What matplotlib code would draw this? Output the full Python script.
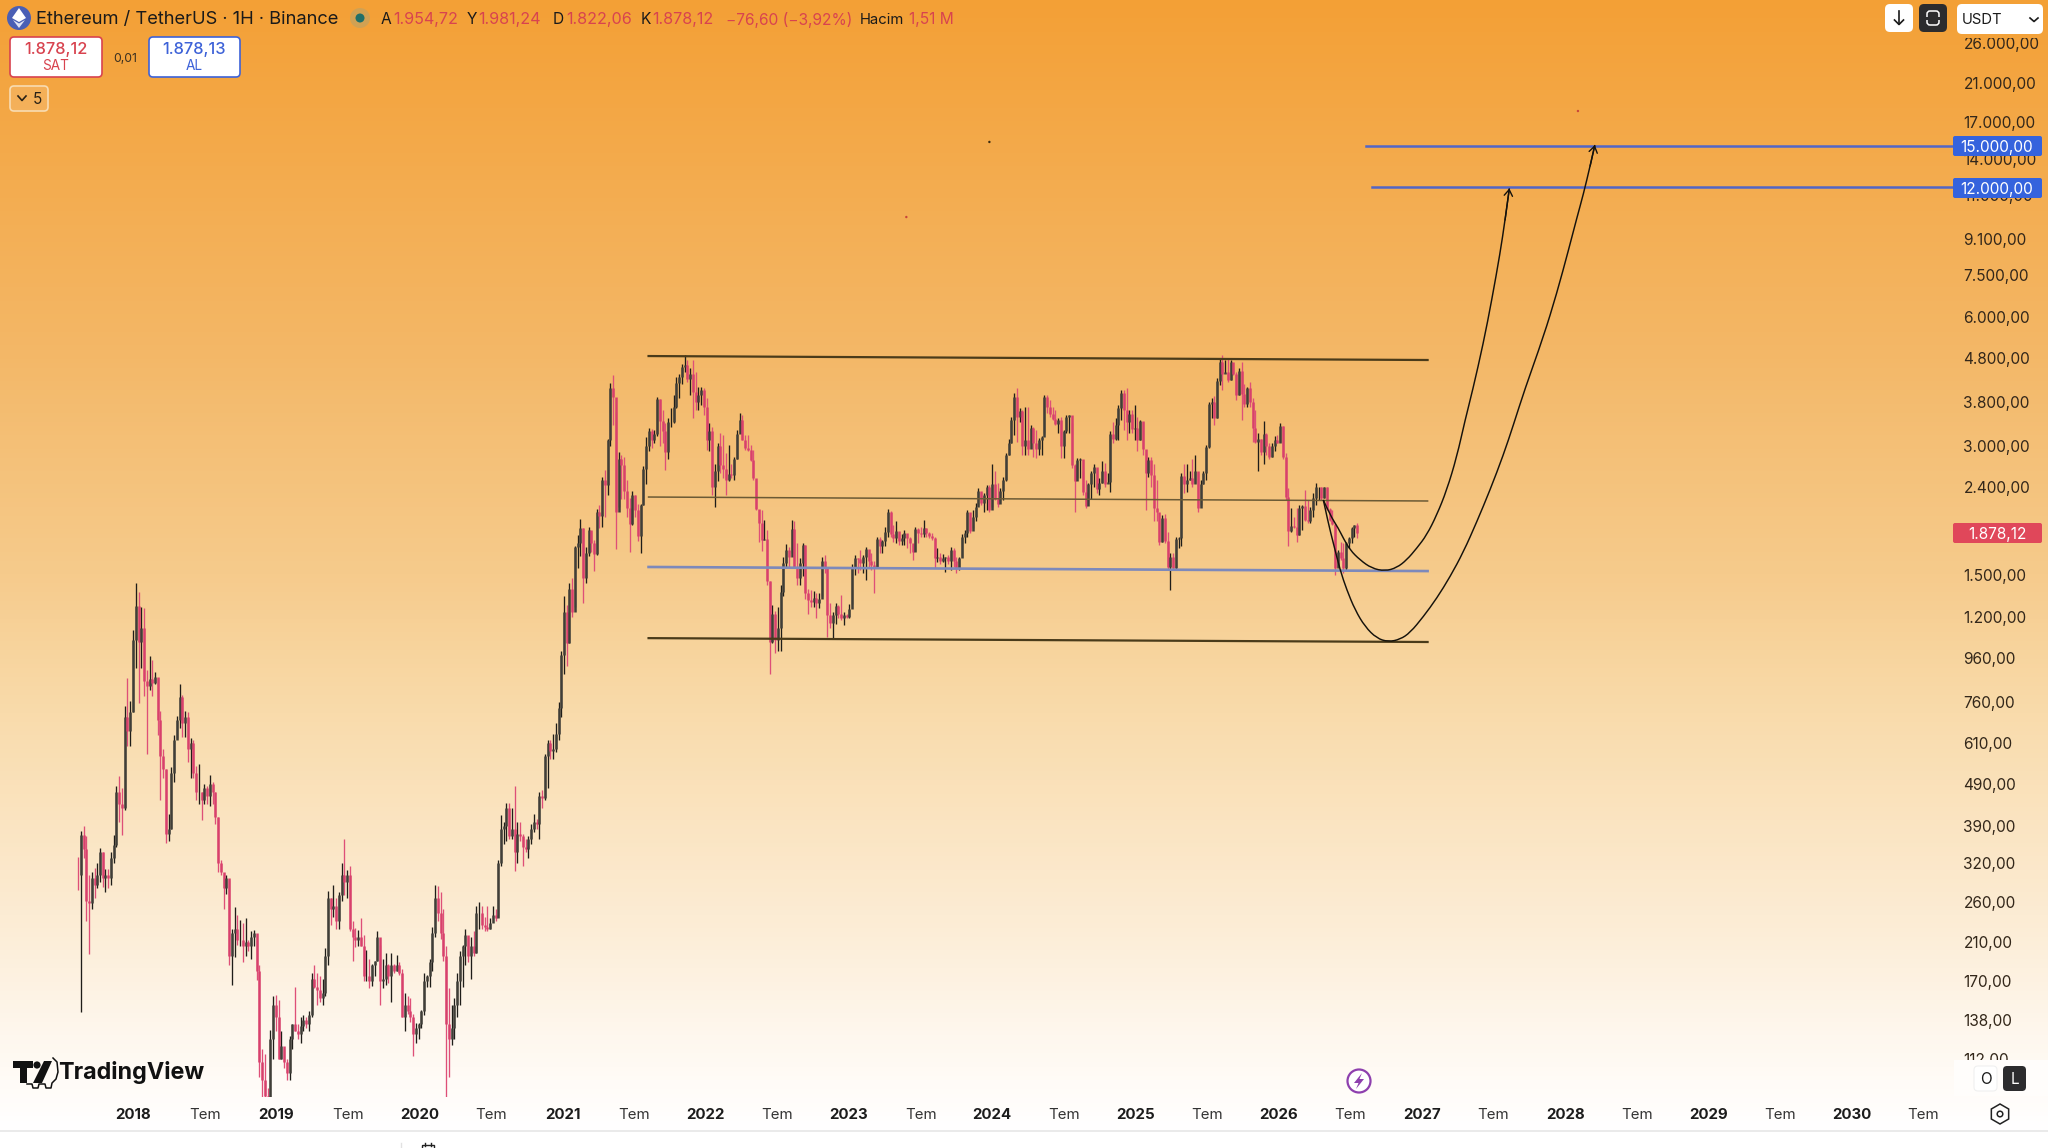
import numpy as np
import pandas as pd
import matplotlib
matplotlib.use('Agg')
import matplotlib.pyplot as plt
from matplotlib.colors import LinearSegmentedColormap
from matplotlib.patches import FancyBboxPatch, Circle, Polygon, Rectangle, PathPatch, RegularPolygon
from matplotlib.path import Path
from matplotlib.ticker import FixedLocator, NullLocator

plt.rcParams['font.family'] = ['Inter', 'DejaVu Sans']

# weekly candles
first_week = '2017-08-14'
first_open = 301
close = [
    300, 372, 345, 262, 258, 295, 285, 300, 340, 295,
    300, 295, 330, 352, 470, 440, 430, 700, 650, 720,
    1060, 1270, 1050, 1130, 850, 830, 860, 840, 870, 690,
    570, 530, 375, 385, 520, 620, 690, 780, 680, 700,
    590, 610, 520, 470, 470, 450, 480, 460, 490, 470,
    410, 320, 305, 280, 295, 195, 220, 225, 212, 212,
    205, 210, 205, 215, 220, 180, 110, 100, 92, 88,
    125, 150, 140, 112, 120, 110, 104, 125, 135, 130,
    128, 134, 138, 135, 142, 172, 165, 162, 155, 160,
    195, 265, 250, 255, 235, 270, 300, 290, 300, 225,
    215, 212, 215, 205, 175, 175, 170, 185, 190, 215,
    170, 172, 185, 175, 185, 180, 185, 178, 140, 150,
    145, 140, 128, 132, 135, 145, 170, 175, 188, 220,
    265, 245, 220, 195, 135, 125, 132, 150, 170, 195,
    205, 218, 195, 205, 198, 245, 245, 230, 228, 225,
    232, 243, 238, 320, 385, 390, 430, 370, 385, 340,
    375, 370, 350, 345, 365, 385, 400, 395, 460, 455,
    570, 610, 585, 590, 640, 735, 975, 1230, 1040, 1390,
    1230, 1740, 1780, 1930, 1480, 1690, 1910, 1780, 1680, 2100,
    2060, 2500, 2430, 3100, 4100, 3900, 2100, 2790, 2700, 2350,
    2150, 1970, 2300, 2130, 1850, 2190, 2650, 3000, 3250, 3100,
    3200, 3850, 3430, 3250, 2900, 3400, 3400, 3700, 4200, 4330,
    4580, 4620, 4300, 4400, 4000, 3800, 3950, 4050, 3700, 3100,
    3250, 2400, 2620, 3000, 2700, 2650, 2500, 2580, 2570, 2800,
    3200, 3450, 3100, 2960, 2930, 2780, 2520, 2140, 1980, 1810,
    1820, 1450, 1050, 1215, 1060, 1130, 1370, 1600, 1720, 1650,
    1920, 1570, 1480, 1600, 1760, 1360, 1310, 1300, 1330, 1290,
    1320, 1620, 1570, 1210, 1160, 1210, 1270, 1220, 1190, 1210,
    1200, 1250, 1570, 1640, 1635, 1600, 1650, 1730, 1620, 1580,
    1560, 1820, 1750, 1800, 1890, 2100, 1870, 1830, 1900, 1800,
    1830, 1880, 1830, 1780, 1700, 1920, 1880, 1870, 1930, 1880,
    1850, 1830, 1640, 1650, 1620, 1640, 1650, 1620, 1720, 1620,
    1560, 1640, 1840, 1880, 2100, 1900, 2050, 2160, 2350, 2210,
    2300, 2400, 2130, 2450, 2260, 2200, 2350, 2500, 2850, 3050,
    3450, 3900, 3500, 3620, 3000, 3100, 2950, 3300, 3050, 2950,
    3100, 3140, 3900, 3700, 3560, 3470, 3370, 3450, 3000, 3250,
    3510, 3530, 2700, 2480, 2780, 2790, 2340, 2170, 2440, 2590,
    2680, 2380, 2460, 2620, 2440, 2470, 3200, 3110, 3350, 3680,
    3980, 3640, 3400, 3560, 3280, 3300, 3100, 3420, 2950, 2600,
    2780, 2560, 2150, 2100, 1790, 2040, 1800, 1570, 1650, 1560,
    1820, 1830, 2550, 2450, 2500, 2530, 2450, 2620, 2150, 2450,
    2600, 2980, 3750, 3800, 3480, 4250, 4700, 4400, 4450, 4260,
    4700, 4420, 3950, 4480, 3960, 3750, 4080, 3800, 3300, 3060,
    3120, 2900, 3200, 3000, 2820, 3000, 3100, 3050, 3330, 2830,
    2280, 1900, 1950, 1940, 1860, 2150, 2170, 2020, 2000, 2130,
    2270, 2400, 2405, 2270, 2400, 2140, 2020, 1970, 1560, 1700,
    1640, 1560, 1780, 1830, 1930, 1960, 1878.12,
]
high = [
    331, 380, 391, 370, 300, 305, 312, 320, 348, 340,
    310, 310, 340, 372, 484, 510, 480, 745, 862, 765,
    1117, 1437, 1370, 1266, 1260, 900, 970, 950, 890, 862,
    725, 590, 530, 417, 535, 635, 705, 837, 790, 725,
    720, 625, 620, 540, 545, 470, 490, 485, 513, 495,
    470, 410, 325, 300, 300, 293, 225, 253, 243, 236,
    232, 238, 212, 222, 224, 212, 185, 118, 115, 96,
    131, 157, 158, 154, 130, 118, 112, 127, 135, 165,
    135, 140, 142, 140, 145, 178, 185, 178, 175, 172,
    203, 276, 265, 285, 265, 275, 320, 365, 308, 315,
    235, 226, 224, 238, 218, 201, 192, 186, 190, 222,
    206, 192, 198, 186, 198, 186, 196, 188, 182, 160,
    157, 155, 143, 136, 136, 146, 178, 176, 192, 227,
    285, 283, 275, 250, 205, 164, 150, 155, 178, 200,
    207, 225, 215, 215, 222, 255, 260, 255, 240, 255,
    238, 255, 250, 325, 414, 400, 442, 442, 430, 485,
    400, 400, 375, 365, 370, 395, 416, 405, 470, 475,
    576, 620, 620, 640, 680, 760, 1000, 1340, 1280, 1440,
    1480, 1750, 1860, 2030, 1930, 1740, 1940, 1890, 1810, 2140,
    2190, 2540, 2640, 3110, 4200, 4380, 3600, 2900, 2860, 2830,
    2500, 2265, 2360, 2300, 2200, 2200, 2690, 3150, 3300, 3280,
    3265, 3900, 3850, 3635, 3385, 3480, 3670, 3940, 4330, 4420,
    4650, 4870, 4750, 4550, 4750, 4460, 4120, 4120, 4085, 3870,
    3385, 3325, 2715, 3040, 3210, 3185, 2885, 3020, 2715, 2830,
    3265, 3570, 3540, 3185, 3185, 3020, 2940, 2500, 2125, 2125,
    2015, 1915, 1450, 1275, 1240, 1266, 1425, 1656, 1775, 1740,
    2015, 2000, 1780, 1640, 1780, 1765, 1395, 1385, 1375, 1360,
    1360, 1656, 1670, 1565, 1290, 1230, 1295, 1275, 1350, 1230,
    1220, 1285, 1590, 1670, 1640, 1715, 1670, 1740, 1690, 1690,
    1620, 1840, 1845, 1810, 1945, 2135, 2120, 1965, 2010, 1895,
    1865, 1915, 1845, 1845, 1765, 1945, 1930, 1945, 2020, 1930,
    1895, 1880, 1845, 1735, 1690, 1680, 1656, 1670, 1740, 1735,
    1656, 1656, 1865, 1915, 2125, 2030, 2125, 2205, 2390, 2345,
    2325, 2435, 2435, 2715, 2615, 2455, 2390, 2545, 2885, 3105,
    3510, 3980, 4085, 3670, 3635, 3700, 3700, 3355, 3325, 3265,
    3125, 3160, 3940, 3940, 3835, 3700, 3635, 3480, 3510, 3265,
    3540, 3540, 3385, 2715, 2810, 2810, 2615, 2500, 2455, 2615,
    2715, 2670, 2525, 2765, 2740, 2590, 3240, 3415, 3480, 3730,
    4050, 4050, 4085, 3635, 3635, 3730, 3510, 3450, 3415, 2885,
    2830, 2830, 2715, 2500, 2000, 2065, 2085, 1895, 1690, 1690,
    1845, 1845, 2590, 2715, 2715, 2615, 2790, 2860, 2590, 2500,
    2615, 3020, 3800, 3870, 3910, 4310, 4780, 4870, 4750, 4780,
    4750, 4550, 4460, 4550, 4710, 4190, 4120, 4230, 3870, 3635,
    3210, 3120, 3430, 3210, 3045, 3045, 3160, 3185, 3385, 3340,
    2885, 2390, 2145, 2050, 2145, 2185, 2185, 2365, 2245, 2165,
    2325, 2455, 2410, 2410, 2410, 2400, 2145, 2125, 1965, 1720,
    1795, 1780, 1795, 1845, 1945, 1965, 1980,
]
low = [
    278, 144, 330, 235, 197, 250, 265, 280, 290, 282,
    275, 280, 285, 320, 350, 400, 372, 426, 600, 600,
    720, 910, 757, 910, 785, 575, 810, 785, 835, 636,
    450, 505, 357, 360, 385, 495, 625, 660, 630, 630,
    550, 505, 505, 450, 440, 404, 440, 440, 435, 440,
    395, 305, 300, 251, 272, 185, 167, 194, 207, 205,
    188, 195, 200, 192, 205, 171, 102, 87, 84, 84,
    84, 112, 130, 112, 112, 107, 100, 100, 118, 130,
    125, 122, 130, 132, 130, 140, 164, 150, 152, 150,
    157, 185, 230, 240, 225, 225, 261, 270, 265, 223,
    190, 204, 205, 205, 170, 170, 164, 166, 175, 190,
    150, 164, 167, 168, 152, 178, 180, 176, 140, 130,
    143, 137, 114, 122, 125, 132, 142, 165, 165, 180,
    215, 235, 213, 190, 91, 102, 121, 125, 140, 150,
    165, 185, 188, 172, 195, 198, 225, 225, 222, 222,
    225, 238, 235, 240, 315, 355, 360, 365, 365, 307,
    320, 360, 315, 340, 330, 355, 378, 385, 365, 430,
    450, 480, 560, 560, 580, 620, 700, 885, 920, 1040,
    1200, 1266, 1560, 1660, 1290, 1440, 1660, 1700, 1530, 1670,
    1930, 1940, 2050, 2310, 3000, 3350, 1730, 2165, 2250, 2250,
    2050, 1700, 1960, 2050, 1800, 1690, 2190, 2450, 2915, 2965,
    3040, 3160, 2990, 3040, 2640, 2790, 3325, 3385, 3670, 3870,
    4190, 4460, 4230, 3940, 3480, 3635, 3635, 3730, 3540, 2940,
    2915, 2305, 2165, 2480, 2590, 2525, 2305, 2480, 2525, 2500,
    2800, 3210, 3095, 2940, 2915, 2765, 2500, 2125, 1795, 1705,
    1810, 1425, 883, 1040, 990, 1000, 1000, 1340, 1555, 1565,
    1690, 1565, 1425, 1425, 1490, 1320, 1215, 1266, 1266, 1190,
    1255, 1340, 1514, 1075, 1130, 1070, 1155, 1195, 1180, 1145,
    1190, 1190, 1285, 1500, 1514, 1540, 1514, 1460, 1565, 1540,
    1360, 1565, 1690, 1690, 1750, 1845, 1845, 1795, 1780, 1765,
    1765, 1765, 1735, 1690, 1625, 1705, 1780, 1845, 1845, 1845,
    1830, 1810, 1555, 1610, 1595, 1610, 1525, 1590, 1540, 1565,
    1514, 1540, 1656, 1780, 1845, 1880, 1930, 2000, 2185, 2185,
    2105, 2125, 2105, 2165, 2245, 2165, 2245, 2245, 2480, 2860,
    3045, 3185, 3070, 3415, 2860, 2860, 2860, 3045, 2830, 2810,
    2860, 2860, 3210, 3570, 3510, 3450, 3355, 3210, 2810, 2810,
    3210, 3210, 2670, 2105, 2525, 2525, 2305, 2145, 2265, 2255,
    2410, 2325, 2305, 2455, 2410, 2455, 2345, 3045, 3100, 3095,
    3450, 3265, 3095, 3210, 3210, 3095, 2915, 3100, 2860, 2125,
    2545, 2410, 2000, 2000, 1765, 1790, 1780, 1540, 1385, 1540,
    1540, 1735, 1750, 2325, 2345, 2500, 2410, 2455, 2105, 2185,
    2450, 2500, 2965, 3480, 3355, 3480, 4160, 4050, 4425, 4230,
    4270, 4390, 3835, 3950, 3450, 3700, 3700, 3700, 3070, 3045,
    2615, 2860, 2715, 2860, 2790, 2820, 2915, 3045, 3070, 2790,
    2245, 1750, 1895, 1930, 1795, 1860, 1915, 2000, 1980, 1980,
    2050, 2185, 2245, 2245, 2265, 2125, 2000, 1965, 1500, 1565,
    1625, 1514, 1540, 1735, 1780, 1845, 1830,
]

# drawn levels: [start year, end year], [start price, end price]
level_top = ([2021.60, 2027.04], [4855, 4753])
level_mid = ([2021.60, 2027.04], [2280, 2232])
level_blue = ([2021.60, 2027.04], [1567, 1533])
level_bottom = ([2021.60, 2027.04], [1070, 1048])
target_high = ([2026.61, 2030.71], [15000, 15000])
target_low = ([2026.65, 2030.71], [12000, 12000])

# hand drawn recovery curves
deep_years = [2026.312, 2026.347, 2026.382, 2026.429, 2026.476, 2026.534, 2026.603, 2026.685, 2026.766,
              2026.848, 2026.918, 2027.010, 2027.104, 2027.197, 2027.290, 2027.383, 2027.476, 2027.569,
              2027.639, 2027.717, 2027.849, 2027.942, 2028.024, 2028.082, 2028.128, 2028.175, 2028.208]
deep_prices = [2244, 1980, 1779, 1542, 1385, 1244, 1138, 1069, 1049,
               1063, 1102, 1200, 1325, 1487, 1698, 1994, 2367, 2856,
               3354, 4047, 5385, 6795, 8570, 10172, 11570, 13450, 15050]
shallow_years = [2026.312, 2026.359, 2026.417, 2026.452, 2026.499, 2026.568, 2026.650, 2026.743, 2026.825, 2026.894, 2026.964,
                 2027.034, 2027.104, 2027.174, 2027.244, 2027.302, 2027.355, 2027.429, 2027.488, 2027.546, 2027.581, 2027.611]
shallow_prices = [2244, 2070, 1928, 1827, 1716, 1627, 1556, 1533, 1561, 1627, 1732,
                  1860, 2070, 2367, 2830, 3445, 4047, 5197, 6554, 8420, 10066, 11930]

speck_years = [2023.98, 2023.40, 2028.09]
speck_prices = [15300, 10230, 18060]
speck_colors = ['#3a2a10', '#c8453a', '#c8453a']

# the 11.000 row sits a little above its nominal place on the reference scale
price_ticks = [26000, 21000, 17000, 14000, 11500, 9100, 7500, 6000, 4800, 3800, 3000, 2400,
               1500, 1200, 960, 760, 610, 490, 390, 320, 260, 210, 170, 138, 112]
price_labels = ['26.000,00', '21.000,00', '17.000,00', '14.000,00', '11.000,00', '9.100,00', '7.500,00', '6.000,00',
                '4.800,00', '3.800,00', '3.000,00', '2.400,00', '1.500,00', '1.200,00', '960,00', '760,00', '610,00',
                '490,00', '390,00', '320,00', '260,00', '210,00', '170,00', '138,00', '112,00']
year_ticks = [2018, 2019, 2020, 2021, 2022, 2023, 2024, 2025, 2026, 2027, 2028, 2029, 2030]

last_price = '1.878,12'
ohlc_text = [('A', 381, '1.954,72', 393), ('Y', 467, '1.981,24', 478), ('D', 553, '1.822,06', 566), ('K', 641, '1.878,12', 652)]


def smooth_path(xs, ys):
    # quadratic spline through the midpoints, midpoints taken on the log scale
    xs = np.array(xs)
    ys = np.log10(ys)
    verts = [(xs[0], 10 ** ys[0])]
    codes = [Path.MOVETO]
    for i in range(1, len(xs) - 1):
        end_x = xs[i + 1] if i == len(xs) - 2 else (xs[i] + xs[i + 1]) / 2
        end_y = ys[i + 1] if i == len(xs) - 2 else (ys[i] + ys[i + 1]) / 2
        verts += [(xs[i], 10 ** ys[i]), (end_x, 10 ** end_y)]
        codes += [Path.CURVE3, Path.CURVE3]
    return Path(verts, codes)


fig = plt.figure(figsize=(20.48, 11.48), dpi=100)

# background gradient
bg = fig.add_axes([0, 0, 1, 1], zorder=0)
stops = [(0, '#f3a036'), (0.3, '#f3b766'), (0.5, '#f6cb8c'), (0.62, '#f9dbab'), (0.8, '#fcecd4'), (0.93, '#fffaf4'), (0.985, '#ffffff'), (1, '#ffffff')]
cmap = LinearSegmentedColormap.from_list('tv_bg', stops)
bg.imshow(np.linspace(0, 1, 1148).reshape(-1, 1), cmap=cmap, aspect='auto', extent=[0, 2048, 1148, 0])
bg.axis('off')

# price chart, the axes stops where the price scale begins
ax = fig.add_axes([0, 51 / 1148, 1953 / 2048, 1097 / 1148], zorder=2)
ax.patch.set_alpha(0)
ax.set_yscale('log')
ax.set_xlim(2017.071, 2030.709)
ax.set_ylim(91.4, 32750)
for s in ax.spines.values():
    s.set_visible(False)

weeks = pd.date_range(first_week, periods=len(close), freq='7D')
t = weeks.year + (weeks.dayofyear - 1) / 365.25
close = np.array(close)
high = np.array(high)
low = np.array(low)
opens = np.r_[first_open, close[:-1]]
up = close >= opens
wick_col = np.where(up, '#1f1d19', '#de4f78')
body_col = np.where(up, '#403e38', '#d8406c')
ax.vlines(t, low, high, colors=wick_col, lw=0.95, zorder=3)
ax.vlines(t, np.minimum(opens, close), np.maximum(opens, close), colors=body_col, lw=1.8, zorder=3)

ax.plot(*level_top, color='#4a3b1a', lw=1.6, zorder=4)
ax.plot(*level_mid, color='#6b5a35', lw=1.1, zorder=4)
ax.plot(*level_blue, color='#7d89bb', lw=1.9, zorder=4)
ax.plot(*level_bottom, color='#4a3b1a', lw=1.6, zorder=4)
ax.plot(*target_high, color='#5266c6', lw=1.8, zorder=4)
ax.plot(*target_low, color='#5266c6', lw=1.8, zorder=4)

for xs, ys in [(deep_years, deep_prices), (shallow_years, shallow_prices)]:
    ax.add_patch(PathPatch(smooth_path(xs, ys), fill=False, ec='#15120c', lw=1.05, zorder=5))
    ax.annotate('', xy=(xs[-1], ys[-1]), xytext=(xs[-2], ys[-2]),
                arrowprops=dict(arrowstyle='->,head_length=0.45,head_width=0.3', color='#15120c', lw=1.0, shrinkA=0, shrinkB=0), zorder=5)
ax.scatter(speck_years, speck_prices, s=3, c=speck_colors, linewidths=0, zorder=3)

ax.yaxis.tick_right()
ax.yaxis.set_major_locator(FixedLocator(price_ticks))
ax.yaxis.set_minor_locator(NullLocator())
ax.set_yticklabels(price_labels, fontsize=11.1, color='#33271a')
ax.tick_params(axis='y', length=0, pad=7.5)
x_pos = []
x_lab = []
for y in year_ticks:
    x_pos += [y, y + 0.5]
    x_lab += [str(y), 'Tem']
ax.xaxis.set_major_locator(FixedLocator(x_pos))
ax.set_xticklabels(x_lab, fontsize=10.8)
ax.tick_params(axis='x', length=0, pad=8)
for lab in ax.get_xticklabels():
    if lab.get_text() == 'Tem':
        lab.set_color('#333333')
    else:
        lab.set_fontweight('bold')
        lab.set_color('#1c1c1c')

# interface on top, in pixels of the screenshot
ui = fig.add_axes([0, 0, 1, 1], zorder=5)
ui.set_xlim(0, 2048)
ui.set_ylim(1148, 0)
ui.axis('off')
ui.patch.set_alpha(0)


def box(x0, y0, x1, y1, fc, ec='none', lw=1.2, r=4, z=6):
    ui.add_patch(FancyBboxPatch((x0 + r, y0 + r), x1 - x0 - 2 * r, y1 - y0 - 2 * r,
                                boxstyle=f'round,pad={r},rounding_size={r}', fc=fc, ec=ec, lw=lw, zorder=z))


def label(x, y, s, color='#1a1a1a', size=10, ha='left', weight='normal', z=8):
    ui.text(x, y + 1.5, s, color=color, fontsize=size, ha=ha, va='center', fontweight=weight, zorder=z)


RED = '#d8434f'
# header
ui.add_patch(Circle((19, 18), 12, fc='#4a5fb5', ec='none', zorder=7))
ui.add_patch(Polygon([(19, 8), (26, 18), (19, 22), (12, 18)], fc='white', ec='none', zorder=8))
ui.add_patch(Polygon([(19, 23.5), (25, 20), (19, 28), (13, 20)], fc='#dfe3f5', ec='none', zorder=8))
label(36, 18, 'Ethereum / TetherUS · 1H · Binance', size=13.2)
ui.add_patch(Circle((360, 18), 10, fc='#c9a25a', ec='none', alpha=0.8, zorder=7))
ui.add_patch(Circle((360, 18), 4.5, fc='#1f6f68', ec='none', zorder=8))
for letter, lx, val, vx in ohlc_text:
    label(lx, 18, letter, size=11.2)
    label(vx, 18, val, color=RED, size=11.6)
label(726, 18, '−76,60 (−3,92%)', color=RED, size=11.2)
label(860, 18, 'Hacim', size=10.7)
label(909, 18, '1,51 M', color=RED, size=11.2)

box(10, 37, 102, 77, 'white', ec=RED)
box(149, 37, 240, 77, 'white', ec='#3d62d8')
label(56, 48, '1.878,12', color=RED, size=11.8, ha='center', weight='medium')
label(56, 65, 'SAT', color=RED, size=9.8, ha='center')
label(125, 57, '0,01', size=8.8, ha='center', color='#3a3020')
label(194, 48, '1.878,13', color='#3d62d8', size=11.8, ha='center', weight='medium')
label(194, 65, 'AL', color='#3d62d8', size=9.8, ha='center')
box(10, 86, 48, 111, (1, 1, 1, 0.12), ec='#f8dcb2')
ui.plot([18, 22, 26], [96, 100.5, 96], color='#2a2216', lw=1.2, zorder=8)
label(33, 98, '5', size=11, color='#2a2216')

# top right buttons
box(1885, 4, 1913, 32, 'white', r=5)
ui.plot([1899, 1899], [11, 24], color='#1a1a1a', lw=1.2, zorder=8)
ui.plot([1894.5, 1899, 1903.5], [20, 24.5, 20], color='#1a1a1a', lw=1.2, zorder=8)
box(1919, 4, 1947, 32, '#2c2c2e', r=5)
box(1927, 11, 1939, 25, 'none', ec='white', lw=1.1, r=3, z=7)
ui.add_patch(Rectangle((1925, 16.5), 16, 3, fc='#2c2c2e', ec='none', zorder=8))
box(1957, 4, 2043, 34, 'white', r=5)
ui.add_patch(Rectangle((1957, 34), 91, 3.6, fc='#f3a23a', ec='none', zorder=5))
label(1962, 18, 'USDT', size=10.7, color='#1a1a1a')
ui.plot([2030, 2034, 2038], [18, 21.5, 18], color='#1a1a1a', lw=1.2, zorder=8)

# price tags
for py, txt in [(146, '15.000,00'), (188, '12.000,00')]:
    box(1953, py - 10, 2042, py + 10, '#3563dd', r=2)
    label(1997, py, txt, color='white', size=11.1, ha='center')
box(1953, 523, 2042, 543, '#e0475a', r=2)
label(1997, 533, last_price, color='white', size=11.1, ha='center')

# logo
ui.add_patch(Polygon([(13, 1061), (33, 1061), (33, 1068), (27, 1068), (27, 1083), (20, 1083), (20, 1068), (13, 1068)], fc='#111111', ec='none', zorder=7))
ui.add_patch(Circle((37, 1065), 3.6, fc='#111111', ec='none', zorder=7))
ui.add_patch(Polygon([(44, 1061), (52, 1061), (42, 1083), (33, 1083)], fc='#111111', ec='none', zorder=7))
ui.plot([53, 57, 58, 56, 52, 51, 46, 45, 39, 38, 33, 32, 27],
        [1058, 1062, 1072, 1079, 1083, 1088, 1088, 1084, 1084, 1088, 1088, 1084, 1084], color='#111111', lw=1.1, zorder=7)
label(58, 1071, 'TradingView', size=16.8, color='#111111', weight='bold')

# bolt button
ui.add_patch(Circle((1359, 1081), 11.5, fc='white', ec='#8e3fae', lw=1.6, zorder=7))
ui.add_patch(Polygon([(1362, 1073), (1354, 1083), (1358.5, 1083), (1356, 1089), (1364, 1079), (1359.5, 1079)], fc='#8e3fae', ec='none', zorder=8))

# O / L buttons
ui.add_patch(Rectangle((1954, 1060), 94, 36, fc='#fffdfb', ec='none', zorder=5))
box(1974, 1066, 1997, 1091, 'white', ec='#f0f0f0', lw=0.8, r=4)
label(1985.5, 1078, 'O', size=11, ha='center', color='#1a1a1a')
box(2003, 1066, 2026, 1091, '#2c2c2e', r=4)
label(2014.5, 1078, 'L', size=11, ha='center', color='white')

# gear
ui.add_patch(RegularPolygon((2000, 1114), 6, radius=10, fc='none', ec='#222222', lw=1.1, zorder=7))
ui.add_patch(Circle((2000, 1114), 2.8, fc='none', ec='#222222', lw=1.1, zorder=7))

# bottom toolbar edge
ui.plot([0, 2048], [1130.5, 1130.5], color='#e6e6e6', lw=1.2, zorder=7)
ui.plot([400.5, 400.5], [1143, 1148], color='#e2e2e2', lw=1, zorder=7)
ui.add_patch(Rectangle((422, 1145), 12, 5, fc='none', ec='#222222', lw=1, zorder=7))
ui.plot([425, 425], [1143, 1146], color='#222222', lw=1, zorder=7)
ui.plot([431, 431], [1143, 1146], color='#222222', lw=1, zorder=7)

fig.savefig('out.png', dpi=100)
